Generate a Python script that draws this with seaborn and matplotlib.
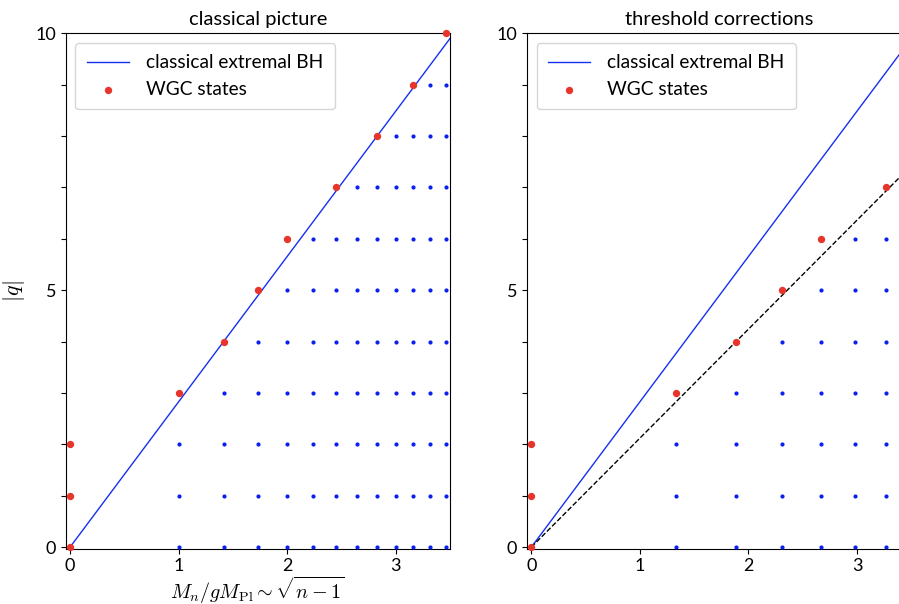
import numpy as np
import pandas as pd
import seaborn as sns
from matplotlib import pyplot as plt

plt.rcParams['font.family'] = ['Lato', 'DejaVu Sans']
plt.rcParams['mathtext.fontset'] = 'cm'

# classical picture: mass sqrt(n-1), columns m = n-1
cl_blue_m = [1, 2, 3, 4, 5, 6, 7, 8, 9, 10, 11, 12]
cl_blue_qmax = [2, 3, 4, 5, 6, 6, 7, 7, 8, 8, 9, 9]
cl_red_m = [0, 0, 0, 1, 2, 3, 4, 6, 8, 10, 12]
cl_red_q = [0, 1, 2, 3, 4, 5, 6, 7, 8, 9, 10]
cl_slope = np.sqrt(8)

# threshold corrections: mass (4/3) sqrt(n-1)
th_blue_m = [1, 2, 3, 4, 5, 6]
th_blue_qmax = [2, 3, 4, 5, 6, 6]
th_red_m = [0, 0, 0, 1, 2, 3, 4, 6]
th_red_q = [0, 1, 2, 3, 4, 5, 6, 7]
th_scale = 4 / 3
th_slope = np.sqrt(8) * 3 / 4

RED = '#e8352b'
BLUE = '#0a1ff0'


def grid_df(ms, qmax, scale):
    rows = []
    for m, qm in zip(ms, qmax):
        for q in range(qm + 1):
            rows.append((scale * np.sqrt(m), q))
    return pd.DataFrame(rows, columns=['x', 'q'])


def panel(ax, title, blue_m, blue_qmax, red_m, red_q, scale, dashed=None):
    xs = np.array([0, 3.6])
    sns.lineplot(x=xs, y=cl_slope * xs, ax=ax, color='#1530f0', lw=1,
                 label='classical extremal BH')
    if dashed is not None:
        sns.lineplot(x=xs, y=dashed * xs, ax=ax, color='k', lw=1,
                     linestyle='--')
    red = pd.DataFrame({'x': scale * np.sqrt(red_m), 'q': red_q})
    sns.scatterplot(data=red, x='x', y='q', ax=ax, color=RED, s=28,
                    linewidth=0, label='WGC states', zorder=3, clip_on=False)
    blue = grid_df(blue_m, blue_qmax, scale)
    sns.scatterplot(data=blue, x='x', y='q', ax=ax, color=BLUE, s=9,
                    linewidth=0, zorder=3, clip_on=False)
    ax.set_xlim(-0.04, 3.5)
    ax.set_ylim(-0.03, 10)
    ax.set_xticks([0, 1, 2, 3])
    ax.set_yticks(range(11))
    ax.set_yticklabels(['0' if i == 0 else '5' if i == 5 else '10' if i == 10 else ''
                        for i in range(11)])
    ax.tick_params(labelsize=13)
    ax.set_title(title, fontsize=14.5)
    ax.set_xlabel('')
    ax.set_ylabel('')
    ax.legend(loc='upper left', fontsize=13.8, handlelength=2.2,
              borderpad=0.6, labelspacing=0.5, handletextpad=0.9)


fig = plt.figure(figsize=(8.99, 6.04), dpi=100)
ax1 = fig.add_axes([0.0731, 0.0916, 0.4275, 0.8533])
ax2 = fig.add_axes([0.5862, 0.0916, 0.4275, 0.8533])

panel(ax1, 'classical picture', cl_blue_m, cl_blue_qmax, cl_red_m, cl_red_q, 1.0)
panel(ax2, 'threshold corrections', th_blue_m, th_blue_qmax, th_red_m, th_red_q,
      th_scale, dashed=th_slope)

ax1.set_xlabel(r'$M_n/gM_{\rm Pl} \sim \sqrt{n-1}$', fontsize=14.5, labelpad=0)
ax1.set_ylabel(r'$|q|$', fontsize=16, labelpad=6)

fig.savefig('out.png', dpi=100)
